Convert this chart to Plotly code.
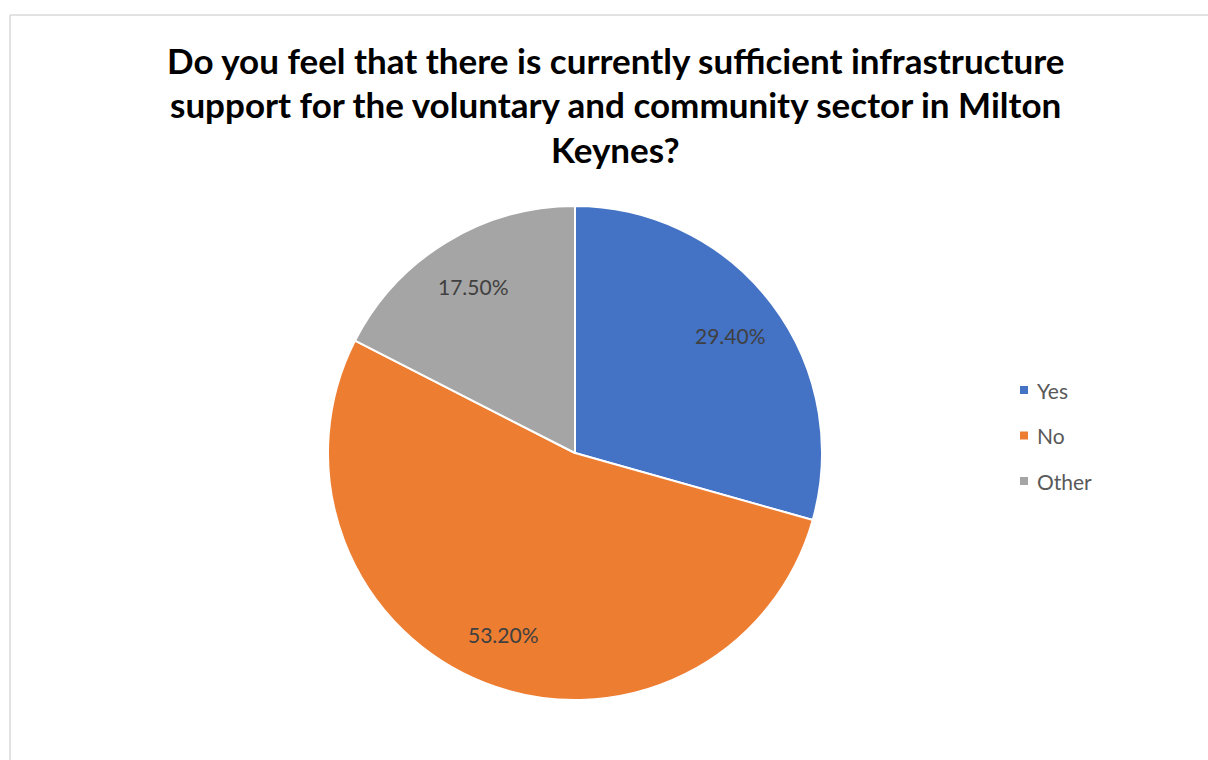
import math
import plotly.graph_objects as go

# Survey responses
categories = ["Yes", "No", "Other"]
shares = [29.4, 53.2, 17.5]
colors = ["#4472C4", "#ED7D31", "#A5A5A5"]
title_lines = [
    "Do you feel that there is currently sufficient infrastructure",
    "support for the voluntary and community sector in Milton",
    "Keynes?",
]

W, H = 1208, 760
FONT = "Lato"

# Pie geometry in pixels
cx, cy, R = 575, 453, 247


def px(x):
    return x / W


def py(y):
    return 1 - y / H


fig = go.Figure(
    go.Pie(
        labels=categories,
        values=shares,
        sort=False,
        direction="clockwise",
        rotation=0,
        marker=dict(colors=colors, line=dict(color="white", width=2)),
        textinfo="none",
        hoverinfo="label+percent",
        showlegend=False,
        domain=dict(x=[px(cx - R), px(cx + R)], y=[py(cy + R), py(cy - R)]),
    )
)

annotations = []

# Data labels placed along each slice's mid-angle
total = sum(shares)
cum = 0.0
for v in shares:
    mid = (cum + v / 2) / total * 2 * math.pi
    cum += v
    r = 0.79 * R
    lx = cx + r * math.sin(mid)
    ly = cy - r * math.cos(mid)
    annotations.append(
        dict(
            x=px(lx), y=py(ly), xref="paper", yref="paper",
            text=f"{v:.2f}%", showarrow=False,
            font=dict(family=FONT, size=21, color="#404040"),
            xanchor="center", yanchor="middle",
        )
    )

# Title lines
for i, line in enumerate(title_lines):
    annotations.append(
        dict(
            x=px(615), y=py(60 + i * 44.5), xref="paper", yref="paper",
            text=f"<b>{line}</b>", showarrow=False,
            font=dict(family=FONT, size=35, color="#000000"),
            xanchor="center", yanchor="middle",
        )
    )

# Legend
shapes = []
leg_x, leg_y0, leg_dy = 1020, 390, 45.5
for i, (name, c) in enumerate(zip(categories, colors)):
    yy = leg_y0 + i * leg_dy
    shapes.append(
        dict(
            type="rect", xref="paper", yref="paper",
            x0=px(leg_x), x1=px(leg_x + 8), y0=py(yy + 4), y1=py(yy - 4),
            fillcolor=c, line=dict(width=0),
        )
    )
    annotations.append(
        dict(
            x=px(leg_x + 15), y=py(yy), xref="paper", yref="paper",
            text=name, showarrow=False,
            font=dict(family=FONT, size=21, color="#595959"),
            xanchor="left", yanchor="middle",
        )
    )

# Chart area border (left and top edges)
border = dict(color="#D9D9D9", width=1.5)
shapes.append(dict(type="line", xref="paper", yref="paper",
                   x0=px(10), x1=px(10), y0=py(15), y1=py(H + 5), line=border))
shapes.append(dict(type="line", xref="paper", yref="paper",
                   x0=px(10), x1=px(W + 5), y0=py(15), y1=py(15), line=border))

fig.update_layout(
    width=W, height=H,
    margin=dict(l=0, r=0, t=0, b=0),
    paper_bgcolor="white", plot_bgcolor="white",
    annotations=annotations, shapes=shapes,
    showlegend=False,
)

fig.write_html("out.html")
